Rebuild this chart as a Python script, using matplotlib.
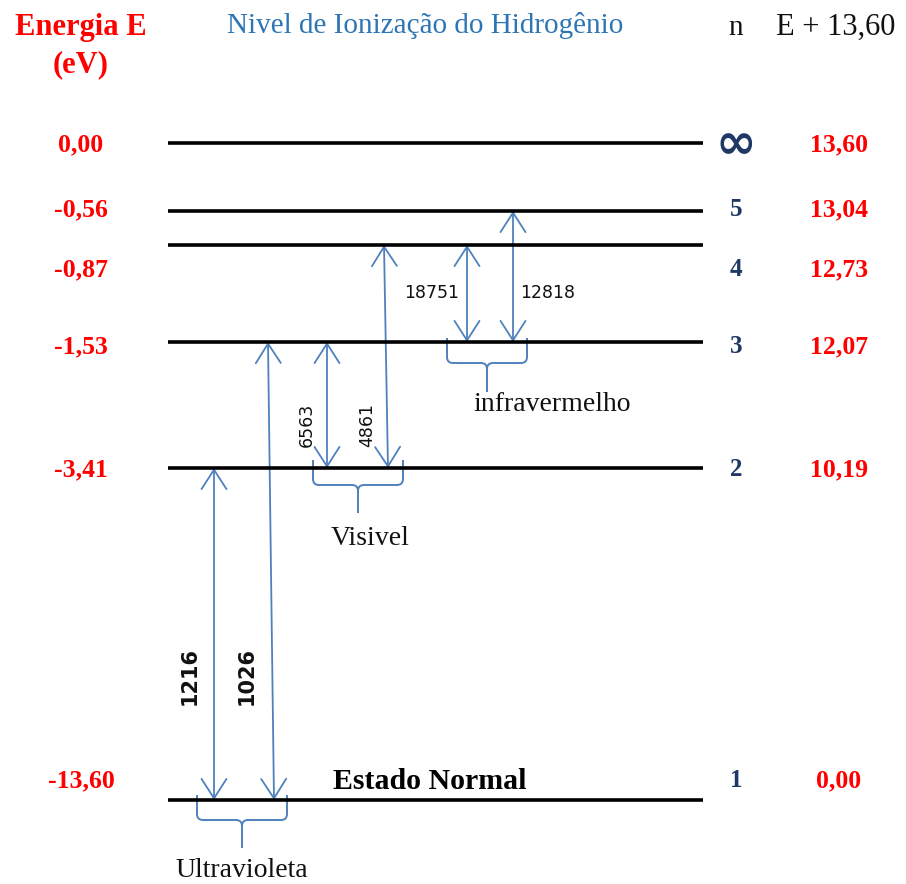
import matplotlib.pyplot as plt
from matplotlib.patches import FancyArrowPatch, PathPatch
from matplotlib.path import Path

# energy levels of hydrogen
n_labels = ['1', '2', '3', '4', '5', '∞']
energy_labels = ['-13,60', '-3,41', '-1,53', '-0,87', '-0,56', '0,00']
shifted_labels = ['0,00', '10,19', '12,07', '12,73', '13,04', '13,60']

# transitions: wavelength (Angstrom), lower level, upper level
wavelengths = ['1216', '1026', '6563', '4861', '18751', '12818']
lower_n = [1, 1, 2, 2, 3, 3]
upper_n = [2, 3, 3, 4, 4, 5]
series_names = ['Ultravioleta', 'Visivel', 'infravermelho']

# layout (diagram units = pixels, y downwards)
level_y = [800, 468, 342, 245, 211, 143]
label_y = [779, 468, 345, 268, 208, 143]
arrow_x = [(214, 214), (274, 268), (327, 327), (388, 384), (467, 467), (513, 513)]
wl_pos = [(190, 676), (247, 676), (307, 425), (367, 425), (432, 293), (548, 293)]
wl_rot = [90, 90, 90, 90, 0, 0]
wl_bold = [True, True, False, False, False, False]
brace_geo = [(197, 287, 795, 820, 848), (313, 403, 460, 485, 513), (447, 527, 338, 363, 392)]
series_pos = [(242, 877), (370, 545), (552, 411)]

red = '#FF0000'
navy = '#1F3864'
arrow_c = '#4F81BD'
serif = 'Liberation Serif'

fig = plt.figure(figsize=(9.06, 8.84), dpi=100)
ax = fig.add_axes([0, 0, 1, 1])
ax.set_xlim(0, 906)
ax.set_ylim(884, 0)
ax.axis('off')

# headers
ax.text(81, 35, 'Energia E', color=red, fontsize=22, fontweight='bold', family=serif, ha='center', va='baseline')
ax.text(81, 72, '(eV)', color=red, fontsize=22, fontweight='bold', family=serif, ha='center', va='baseline')
ax.text(425, 33, 'Nivel de Ionização do Hidrogênio', color='#2E75B6', fontsize=21, family=serif, ha='center', va='baseline')
ax.text(736, 35, 'n', color='#111111', fontsize=21, family=serif, ha='center', va='baseline')
ax.text(836, 35, 'E + 13,60', color='#111111', fontsize=22, family=serif, ha='center', va='baseline')

# levels and labels
for i in range(len(n_labels)):
    ax.plot([168, 703], [level_y[i], level_y[i]], color='black', lw=2.6, solid_capstyle='butt')
    ax.text(81, label_y[i] + 8, energy_labels[i], color=red, fontsize=18.5, fontweight='bold', family=serif, ha='center', va='baseline')
    ax.text(839, label_y[i] + 8, shifted_labels[i], color=red, fontsize=18.5, fontweight='bold', family=serif, ha='center', va='baseline')
    if n_labels[i] == '∞':
        ax.text(736, label_y[i] + 1, n_labels[i], color=navy, fontsize=35, fontweight='bold', family='DejaVu Sans', ha='center', va='center')
    else:
        ax.text(736, label_y[i] + 8, n_labels[i], color=navy, fontsize=18, fontweight='bold', family=serif, ha='center', va='baseline')

ax.text(430, 789, 'Estado Normal', color='black', fontsize=21.5, fontweight='bold', family=serif, ha='center', va='baseline')

# transitions
for k in range(len(wavelengths)):
    y_low = level_y[lower_n[k] - 1]
    y_up = level_y[upper_n[k] - 1]
    arr = FancyArrowPatch((arrow_x[k][0], y_low), (arrow_x[k][1], y_up),
                          arrowstyle='<->,head_length=1.4,head_width=0.9', mutation_scale=10,
                          color=arrow_c, lw=1.3, shrinkA=0, shrinkB=0)
    ax.add_patch(arr)
    ax.text(wl_pos[k][0], wl_pos[k][1], wavelengths[k], rotation=wl_rot[k],
            fontsize=15 if wl_bold[k] else 12.5, fontweight='bold' if wl_bold[k] else 'normal',
            family='DejaVu Sans', color='#111111', ha='center', va='center')

# braces under each series
def brace(x0, x1, ytop, yh, ytip, r=6):
    xc = (x0 + x1) / 2
    verts = [(x0, ytop), (x0, yh - r), (x0, yh), (x0 + r, yh), (xc - r, yh), (xc, yh), (xc, yh + r),
             (xc, ytip),
             (xc, yh + r), (xc, yh), (xc + r, yh), (x1 - r, yh), (x1, yh), (x1, yh - r), (x1, ytop)]
    codes = [Path.MOVETO, Path.LINETO, Path.CURVE3, Path.CURVE3, Path.LINETO, Path.CURVE3, Path.CURVE3,
             Path.LINETO,
             Path.MOVETO, Path.CURVE3, Path.CURVE3, Path.LINETO, Path.CURVE3, Path.CURVE3, Path.LINETO]
    ax.add_patch(PathPatch(Path(verts, codes), fill=False, edgecolor=arrow_c, lw=1.4))

for j in range(len(series_names)):
    brace(*brace_geo[j])
    ax.text(series_pos[j][0], series_pos[j][1], series_names[j], fontsize=20, family=serif,
            color='#111111', ha='center', va='baseline')

fig.savefig('out.png', dpi=100)
